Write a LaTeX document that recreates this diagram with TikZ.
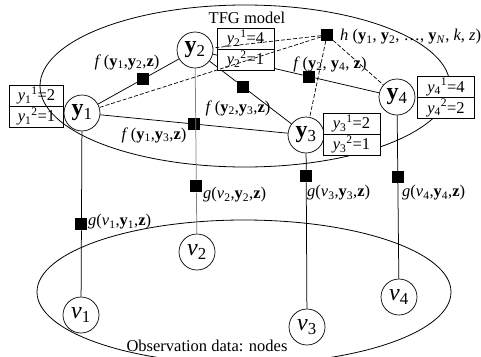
\documentclass[tikz,border=0pt]{standalone}
\usepackage{fontspec}
\setmainfont{Liberation Serif}
\usetikzlibrary{calc}
\newcommand{\by}[1]{\textbf{y}\textsubscript{#1}}
\newcommand{\iv}[1]{\textit{v}\textsubscript{#1}}
\newcommand{\yy}[3]{\textit{y}\textsubscript{#1}\textsuperscript{#2}=#3}
\begin{document}
\begin{tikzpicture}[x=1pt,y=-1pt,
  vnode/.style={circle,draw,fill=white,minimum size=36pt,inner sep=0pt,line width=0.7pt,font=\fontsize{24}{26}\selectfont},
  fac/.style={rectangle,fill=black,minimum size=12pt,inner sep=0pt},
  lab/.style={inner sep=0pt,font=\fontsize{16.5}{18}\selectfont},
  cell/.style={draw,fill=white,minimum width=57pt,minimum height=21pt,inner sep=0pt,line width=0.7pt,font=\fontsize{16.5}{18}\selectfont},
  conn/.style={line width=0.75pt},
  dconn/.style={line width=0.7pt,dash pattern=on 4pt off 2pt},
  vconn/.style={line width=0.75pt}]
\useasboundingbox (0,0) rectangle (481,356);
% regions
\draw[line width=0.8pt] (245,86) ellipse [x radius=205pt, y radius=81pt];
\draw[line width=0.8pt] (244,292) ellipse [x radius=207pt, y radius=72pt];
\node[lab] (tfg) at (247,18) {TFG model};
\node[lab] (obs) at (207,346) {Observation data: nodes};
% variable nodes
\node[vnode] (y1) at (82,113) {\by{1}};
\node[vnode] (y2) at (195,50) {\by{2}};
\node[vnode] (y3) at (306,135) {\by{3}};
\node[vnode] (y4) at (397,97) {\by{4}};
\node[vnode] (v1) at (81,315) {\iv{1}};
\node[vnode] (v2) at (197,252) {\iv{2}};
\node[vnode] (v3) at (307,327) {\iv{3}};
\node[vnode] (v4) at (399,297) {\iv{4}};
% factor nodes
\node[fac] (f12) at ($(y1)!0.54!(y2)$) {};
\node[fac] (f13) at ($(y1)!0.5!(y3)$) {};
\node[fac] (f23) at ($(y2)!0.43!(y3)$) {};
\node[fac] (f24) at ($(y2)!0.565!(y4)$) {};
\node[fac] (h) at (327,35) {};
\node[fac] (g1) at ($(y1)!0.55!(v1)$) {};
\node[fac] (g2) at ($(y2)!0.675!(v2)$) {};
\node[fac] (g3) at ($(y3)!0.215!(v3)$) {};
\node[fac] (g4) at ($(y4)!0.40!(v4)$) {};
% solid connectors
\draw[conn] (y1) -- (f12) -- (y2);
\draw[conn] (y1) -- (f13) -- (y3);
\draw[conn] (y2) -- (f23) -- (y3);
\draw[conn] (y2) -- (f24) -- (y4);
\draw[vconn] (y1) -- (g1) -- (v1);
\draw[vconn,gray] (y2) -- (g2) -- (v2);
\draw[vconn] (y3) -- (g3) -- (v3);
\draw[vconn] (y4) -- (g4) -- (v4);
% value boxes
\node[cell,fill=none,minimum width=54pt] (b1a) at (36.5,95.5) {\yy{1}{1}{2}};
\node[cell,fill=none,minimum width=54pt] (b1b) at (36.5,116.5) {\yy{1}{2}{1}};
\node[cell] (b3a) at (351.5,123.5) {\yy{3}{1}{2}};
\node[cell] (b3b) at (351.5,144.5) {\yy{3}{2}{1}};
\node[cell] (b4a) at (446,87) {\yy{4}{1}{4}};
\node[cell] (b4b) at (446,108) {\yy{4}{2}{2}};
\node[cell] (b2a) at (245.5,38.5) {\yy{2}{1}{4}};
\node[cell] (b2b) at (245.5,59.5) {\yy{2}{2}{1}};
% dashed connectors of h
\draw[dconn] (h) -- (y1);
\draw[dconn] (h) -- (y2);
\draw[dconn] (h) -- (y3);
\draw[dconn] (h) -- (y4);
% labels
\node[lab] (lf12) at (127,62) {\textit{f}\,(\by{1},\by{2},\textbf{z})};
\node[lab] (lf13) at (154,135) {\textit{f}\,(\by{1},\by{3},\textbf{z})};
\node[lab] (lf23) at (238,108) {\textit{f}\,(\by{2},\by{3},\textbf{z})};
\node[lab] (lf24) at (330,64) {\textit{f}\,(\by{2}, \by{4}, \textbf{z})};
\node[lab,anchor=west] (lh) at (340,37) {\textit{h} (\by{1}, \by{2}, \ldots, \by{\textit{N}}, \textit{k}, \textit{z})};
\node[lab,anchor=west] (lg1) at (88,222) {\textit{g}(\iv{1},\by{1},\textbf{z})};
\node[lab,anchor=west] (lg2) at (203,195) {\textit{g}(\iv{2},\by{2},\textbf{z})};
\node[lab,anchor=west] (lg3) at (307,193) {\textit{g}(\iv{3},\by{3},\textbf{z})};
\node[lab,anchor=west] (lg4) at (402,193) {\textit{g}(\iv{4},\by{4},\textbf{z})};
\end{tikzpicture}
\end{document}
